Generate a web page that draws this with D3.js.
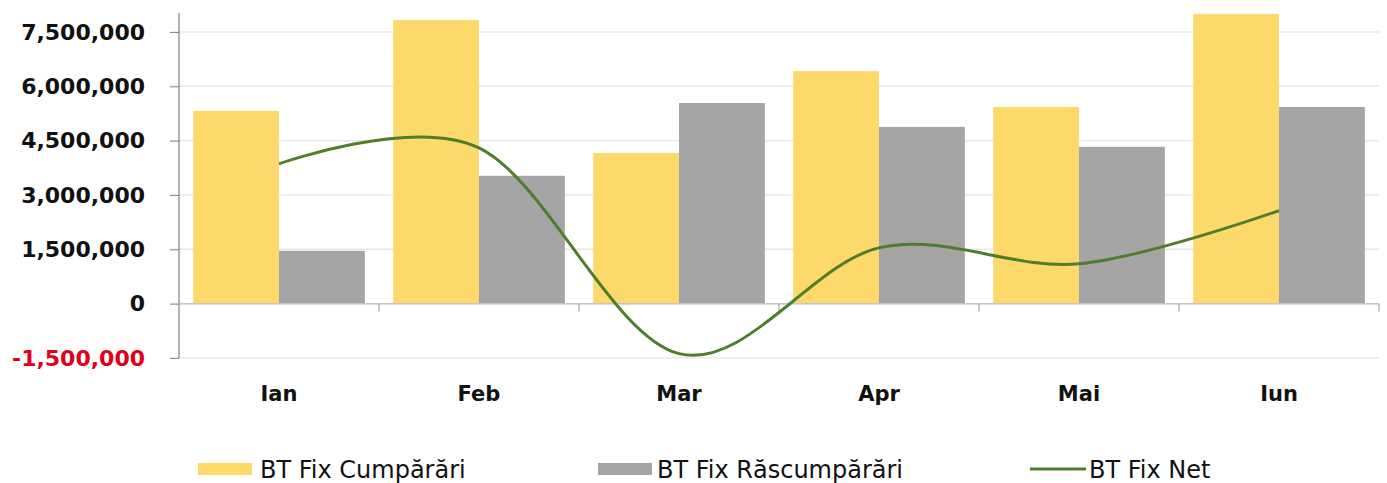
<!DOCTYPE html>
<html>
<head>
<meta charset="utf-8">
<script src="https://cdn.jsdelivr.net/npm/d3@7"></script>
<style>
  body { margin: 0; background: #fff; }
  text { font-family: "DejaVu Sans", sans-serif; }
</style>
</head>
<body>
<svg id="chart" width="1387" height="483"></svg>
<script>
// data
const months = ["Ian", "Feb", "Mar", "Apr", "Mai", "Iun"];
const cumparari = [5320000, 7830000, 4160000, 6420000, 5430000, 8000000];
const rascumparari = [1460000, 3530000, 5540000, 4880000, 4330000, 5430000];
const net = [3860000, 4300000, -1380000, 1540000, 1100000, 2570000];
const yTicks = [-1500000, 0, 1500000, 3000000, 4500000, 6000000, 7500000];
const seriesNames = ["BT Fix Cumpărări", "BT Fix Răscumpărări", "BT Fix Net"];

const colors = { cump: "#FDD86B", rasc: "#A5A5A5", net: "#4F7D2C" };

const svg = d3.select("#chart");
const left = 179, right = 1379;

const y = d3.scaleLinear().domain([-1500000, 7500000]).range([358, 32]);
const x = d3.scaleBand().domain(months).range([left, right]).paddingInner(0).paddingOuter(0);
const inner = d3.scaleBand().domain(["c", "r"]).range([0, x.bandwidth()]).paddingOuter(0.165).paddingInner(0);

const fmt = d => d3.format(",")(d).replace("−", "-");

// gridlines
svg.append("g")
  .selectAll("line")
  .data(yTicks)
  .enter()
  .append("line")
  .attr("x1", left - 9)
  .attr("x2", right)
  .attr("y1", d => y(d))
  .attr("y2", d => y(d))
  .style("stroke", "#E8E8E8")
  .style("stroke-width", 1.5);

// y axis
const yAxis = svg.append("g")
  .attr("transform", `translate(${left},0)`)
  .call(d3.axisLeft(y).tickValues(yTicks).tickSize(9).tickPadding(25).tickFormat(fmt));
yAxis.select(".domain").attr("d", `M0,${y(-1500000)}V13`).style("stroke", "#666");
yAxis.selectAll(".tick line").style("stroke", "#888");
yAxis.selectAll("text")
  .style("font-size", "22px")
  .style("font-weight", "bold")
  .style("fill", d => d < 0 ? "#E0001B" : "#111");

// bars
const groups = svg.append("g")
  .selectAll("g")
  .data(months)
  .enter()
  .append("g")
  .attr("transform", d => `translate(${x(d)},0)`);

groups.append("rect")
  .attr("x", inner("c"))
  .attr("width", inner.bandwidth())
  .attr("y", (d, i) => y(cumparari[i]))
  .attr("height", (d, i) => y(0) - y(cumparari[i]))
  .style("fill", colors.cump);

groups.append("rect")
  .attr("x", inner("r"))
  .attr("width", inner.bandwidth())
  .attr("y", (d, i) => y(rascumparari[i]))
  .attr("height", (d, i) => y(0) - y(rascumparari[i]))
  .style("fill", colors.rasc);

// x axis at zero
const xAxis = svg.append("g")
  .attr("transform", `translate(0,${y(0)})`);
xAxis.append("line")
  .attr("x1", left)
  .attr("x2", right)
  .style("stroke", "#C4C4C4")
  .style("stroke-width", 1.5);
xAxis.selectAll(".tk")
  .data(months)
  .enter()
  .append("line")
  .attr("class", "tk")
  .attr("x1", d => x(d) + x.bandwidth())
  .attr("x2", d => x(d) + x.bandwidth())
  .attr("y1", 0)
  .attr("y2", 8)
  .style("stroke", "#999");

svg.append("g")
  .selectAll("text")
  .data(months)
  .enter()
  .append("text")
  .attr("x", d => x(d) + x.bandwidth() / 2)
  .attr("y", 401)
  .attr("text-anchor", "middle")
  .style("font-size", "21px")
  .style("font-weight", "bold")
  .style("fill", "#111")
  .text(d => d);

// net line
const line = d3.line()
  .x((d, i) => x(months[i]) + x.bandwidth() / 2)
  .y(d => y(d))
  .curve(d3.curveCatmullRom.alpha(0));

svg.append("path")
  .datum(net)
  .attr("d", line)
  .style("fill", "none")
  .style("stroke", colors.net)
  .style("stroke-width", 3);

// legend
const legend = svg.append("g").attr("transform", "translate(0,469)");
const legendX = [198, 598, 1030];
const leg = legend.selectAll("g")
  .data(seriesNames)
  .enter()
  .append("g")
  .attr("transform", (d, i) => `translate(${legendX[i]},0)`);
leg.filter((d, i) => i < 2)
  .append("rect")
  .attr("x", 0)
  .attr("y", -6)
  .attr("width", 54)
  .attr("height", 12)
  .style("fill", (d, i) => i === 0 ? colors.cump : colors.rasc);
leg.filter((d, i) => i === 2)
  .append("line")
  .attr("x1", 0)
  .attr("x2", 56)
  .style("stroke", colors.net)
  .style("stroke-width", 3);
leg.append("text")
  .attr("x", (d, i) => [62, 59, 59][i])
  .attr("y", 9)
  .style("font-size", "24px")
  .style("fill", "#111")
  .text(d => d);
</script>
</body>
</html>
